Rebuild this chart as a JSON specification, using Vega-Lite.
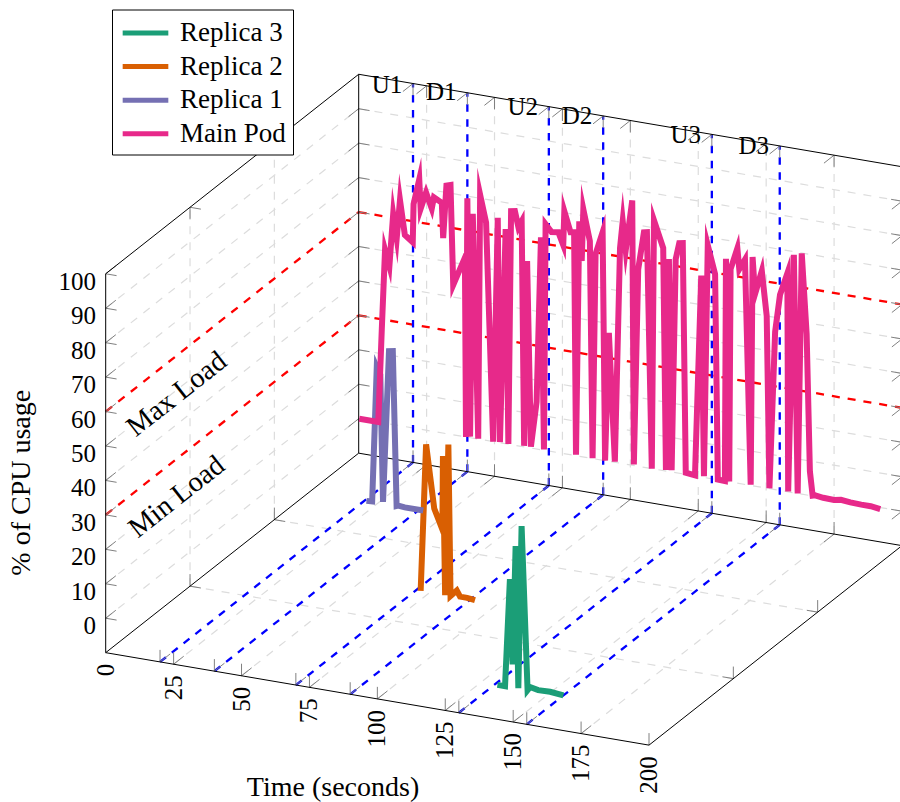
{"$schema":"https://vega.github.io/schema/vega-lite/v6.json","width":900,"height":802,"padding":0,"autosize":{"type":"fit","contains":"padding"},"background":"white","data":{"values":[
{"kind":"grid","time":25,"replica":0,"cpu":-10,"time2":25,"replica2":3,"cpu2":-10},{"kind":"grid","time":50,"replica":0,"cpu":-10,"time2":50,"replica2":3,"cpu2":-10},{"kind":"grid","time":75,"replica":0,"cpu":-10,"time2":75,"replica2":3,"cpu2":-10},{"kind":"grid","time":100,"replica":0,"cpu":-10,"time2":100,"replica2":3,"cpu2":-10},{"kind":"grid","time":125,"replica":0,"cpu":-10,"time2":125,"replica2":3,"cpu2":-10},{"kind":"grid","time":150,"replica":0,"cpu":-10,"time2":150,"replica2":3,"cpu2":-10},{"kind":"grid","time":175,"replica":0,"cpu":-10,"time2":175,"replica2":3,"cpu2":-10},
{"kind":"grid","time":25,"replica":3,"cpu":-10,"time2":25,"replica2":3,"cpu2":100},{"kind":"grid","time":50,"replica":3,"cpu":-10,"time2":50,"replica2":3,"cpu2":100},{"kind":"grid","time":75,"replica":3,"cpu":-10,"time2":75,"replica2":3,"cpu2":100},{"kind":"grid","time":100,"replica":3,"cpu":-10,"time2":100,"replica2":3,"cpu2":100},{"kind":"grid","time":125,"replica":3,"cpu":-10,"time2":125,"replica2":3,"cpu2":100},{"kind":"grid","time":150,"replica":3,"cpu":-10,"time2":150,"replica2":3,"cpu2":100},{"kind":"grid","time":175,"replica":3,"cpu":-10,"time2":175,"replica2":3,"cpu2":100},
{"kind":"grid","time":0,"replica":3,"cpu":0,"time2":200,"replica2":3,"cpu2":0},{"kind":"grid","time":0,"replica":3,"cpu":10,"time2":200,"replica2":3,"cpu2":10},{"kind":"grid","time":0,"replica":3,"cpu":20,"time2":200,"replica2":3,"cpu2":20},{"kind":"grid","time":0,"replica":3,"cpu":30,"time2":200,"replica2":3,"cpu2":30},{"kind":"grid","time":0,"replica":3,"cpu":40,"time2":200,"replica2":3,"cpu2":40},{"kind":"grid","time":0,"replica":3,"cpu":50,"time2":200,"replica2":3,"cpu2":50},{"kind":"grid","time":0,"replica":3,"cpu":60,"time2":200,"replica2":3,"cpu2":60},{"kind":"grid","time":0,"replica":3,"cpu":70,"time2":200,"replica2":3,"cpu2":70},{"kind":"grid","time":0,"replica":3,"cpu":80,"time2":200,"replica2":3,"cpu2":80},{"kind":"grid","time":0,"replica":3,"cpu":90,"time2":200,"replica2":3,"cpu2":90},
{"kind":"grid","time":0,"replica":0,"cpu":0,"time2":0,"replica2":3,"cpu2":0},{"kind":"grid","time":0,"replica":0,"cpu":10,"time2":0,"replica2":3,"cpu2":10},{"kind":"grid","time":0,"replica":0,"cpu":20,"time2":0,"replica2":3,"cpu2":20},{"kind":"grid","time":0,"replica":0,"cpu":30,"time2":0,"replica2":3,"cpu2":30},{"kind":"grid","time":0,"replica":0,"cpu":40,"time2":0,"replica2":3,"cpu2":40},{"kind":"grid","time":0,"replica":0,"cpu":50,"time2":0,"replica2":3,"cpu2":50},{"kind":"grid","time":0,"replica":0,"cpu":60,"time2":0,"replica2":3,"cpu2":60},{"kind":"grid","time":0,"replica":0,"cpu":70,"time2":0,"replica2":3,"cpu2":70},{"kind":"grid","time":0,"replica":0,"cpu":80,"time2":0,"replica2":3,"cpu2":80},{"kind":"grid","time":0,"replica":0,"cpu":90,"time2":0,"replica2":3,"cpu2":90},
{"kind":"grid","time":0,"replica":1,"cpu":-10,"time2":0,"replica2":1,"cpu2":100},{"kind":"grid","time":0,"replica":2,"cpu":-10,"time2":0,"replica2":2,"cpu2":100},{"kind":"grid","time":0,"replica":1,"cpu":-10,"time2":200,"replica2":1,"cpu2":-10},{"kind":"grid","time":0,"replica":2,"cpu":-10,"time2":200,"replica2":2,"cpu2":-10},
{"kind":"red","time":0,"replica":0,"cpu":60,"time2":0,"replica2":3,"cpu2":60},{"kind":"red","time":0,"replica":3,"cpu":60,"time2":200,"replica2":3,"cpu2":60},{"kind":"red","time":0,"replica":0,"cpu":30,"time2":0,"replica2":3,"cpu2":30},{"kind":"red","time":0,"replica":3,"cpu":30,"time2":200,"replica2":3,"cpu2":30},
{"kind":"blue","time":20,"replica":0,"cpu":-10,"time2":20,"replica2":3,"cpu2":-10},{"kind":"blue","time":20,"replica":3,"cpu":-10,"time2":20,"replica2":3,"cpu2":100},{"kind":"blue","time":40,"replica":0,"cpu":-10,"time2":40,"replica2":3,"cpu2":-10},{"kind":"blue","time":40,"replica":3,"cpu":-10,"time2":40,"replica2":3,"cpu2":100},{"kind":"blue","time":70,"replica":0,"cpu":-10,"time2":70,"replica2":3,"cpu2":-10},{"kind":"blue","time":70,"replica":3,"cpu":-10,"time2":70,"replica2":3,"cpu2":100},{"kind":"blue","time":90,"replica":0,"cpu":-10,"time2":90,"replica2":3,"cpu2":-10},{"kind":"blue","time":90,"replica":3,"cpu":-10,"time2":90,"replica2":3,"cpu2":100},{"kind":"blue","time":130,"replica":0,"cpu":-10,"time2":130,"replica2":3,"cpu2":-10},{"kind":"blue","time":130,"replica":3,"cpu":-10,"time2":130,"replica2":3,"cpu2":100},{"kind":"blue","time":155,"replica":0,"cpu":-10,"time2":155,"replica2":3,"cpu2":-10},{"kind":"blue","time":155,"replica":3,"cpu":-10,"time2":155,"replica2":3,"cpu2":100},
{"kind":"tick","time":20,"replica":0,"cpu":-10,"time2":20,"replica2":0,"cpu2":-6.5},{"kind":"tick","time":20,"replica":0,"cpu":-10,"time2":20,"replica2":0.12,"cpu2":-10},{"kind":"tick","time":20,"replica":3,"cpu":-10,"time2":20,"replica2":3,"cpu2":-6.5},{"kind":"tick","time":20,"replica":3,"cpu":-10,"time2":20,"replica2":2.88,"cpu2":-10},{"kind":"tick","time":20,"replica":3,"cpu":100,"time2":20,"replica2":3,"cpu2":96.5},{"kind":"tick","time":20,"replica":3,"cpu":100,"time2":20,"replica2":2.88,"cpu2":100},
{"kind":"tick","time":25,"replica":0,"cpu":-10,"time2":25,"replica2":0,"cpu2":-6.5},{"kind":"tick","time":25,"replica":0,"cpu":-10,"time2":25,"replica2":0.12,"cpu2":-10},{"kind":"tick","time":25,"replica":3,"cpu":-10,"time2":25,"replica2":3,"cpu2":-6.5},{"kind":"tick","time":25,"replica":3,"cpu":-10,"time2":25,"replica2":2.88,"cpu2":-10},{"kind":"tick","time":25,"replica":3,"cpu":100,"time2":25,"replica2":3,"cpu2":96.5},{"kind":"tick","time":25,"replica":3,"cpu":100,"time2":25,"replica2":2.88,"cpu2":100},
{"kind":"tick","time":40,"replica":0,"cpu":-10,"time2":40,"replica2":0,"cpu2":-6.5},{"kind":"tick","time":40,"replica":0,"cpu":-10,"time2":40,"replica2":0.12,"cpu2":-10},{"kind":"tick","time":40,"replica":3,"cpu":-10,"time2":40,"replica2":3,"cpu2":-6.5},{"kind":"tick","time":40,"replica":3,"cpu":-10,"time2":40,"replica2":2.88,"cpu2":-10},{"kind":"tick","time":40,"replica":3,"cpu":100,"time2":40,"replica2":3,"cpu2":96.5},{"kind":"tick","time":40,"replica":3,"cpu":100,"time2":40,"replica2":2.88,"cpu2":100},
{"kind":"tick","time":50,"replica":0,"cpu":-10,"time2":50,"replica2":0,"cpu2":-6.5},{"kind":"tick","time":50,"replica":0,"cpu":-10,"time2":50,"replica2":0.12,"cpu2":-10},{"kind":"tick","time":50,"replica":3,"cpu":-10,"time2":50,"replica2":3,"cpu2":-6.5},{"kind":"tick","time":50,"replica":3,"cpu":-10,"time2":50,"replica2":2.88,"cpu2":-10},{"kind":"tick","time":50,"replica":3,"cpu":100,"time2":50,"replica2":3,"cpu2":96.5},{"kind":"tick","time":50,"replica":3,"cpu":100,"time2":50,"replica2":2.88,"cpu2":100},
{"kind":"tick","time":70,"replica":0,"cpu":-10,"time2":70,"replica2":0,"cpu2":-6.5},{"kind":"tick","time":70,"replica":0,"cpu":-10,"time2":70,"replica2":0.12,"cpu2":-10},{"kind":"tick","time":70,"replica":3,"cpu":-10,"time2":70,"replica2":3,"cpu2":-6.5},{"kind":"tick","time":70,"replica":3,"cpu":-10,"time2":70,"replica2":2.88,"cpu2":-10},{"kind":"tick","time":70,"replica":3,"cpu":100,"time2":70,"replica2":3,"cpu2":96.5},{"kind":"tick","time":70,"replica":3,"cpu":100,"time2":70,"replica2":2.88,"cpu2":100},
{"kind":"tick","time":75,"replica":0,"cpu":-10,"time2":75,"replica2":0,"cpu2":-6.5},{"kind":"tick","time":75,"replica":0,"cpu":-10,"time2":75,"replica2":0.12,"cpu2":-10},{"kind":"tick","time":75,"replica":3,"cpu":-10,"time2":75,"replica2":3,"cpu2":-6.5},{"kind":"tick","time":75,"replica":3,"cpu":-10,"time2":75,"replica2":2.88,"cpu2":-10},{"kind":"tick","time":75,"replica":3,"cpu":100,"time2":75,"replica2":3,"cpu2":96.5},{"kind":"tick","time":75,"replica":3,"cpu":100,"time2":75,"replica2":2.88,"cpu2":100},
{"kind":"tick","time":90,"replica":0,"cpu":-10,"time2":90,"replica2":0,"cpu2":-6.5},{"kind":"tick","time":90,"replica":0,"cpu":-10,"time2":90,"replica2":0.12,"cpu2":-10},{"kind":"tick","time":90,"replica":3,"cpu":-10,"time2":90,"replica2":3,"cpu2":-6.5},{"kind":"tick","time":90,"replica":3,"cpu":-10,"time2":90,"replica2":2.88,"cpu2":-10},{"kind":"tick","time":90,"replica":3,"cpu":100,"time2":90,"replica2":3,"cpu2":96.5},{"kind":"tick","time":90,"replica":3,"cpu":100,"time2":90,"replica2":2.88,"cpu2":100},
{"kind":"tick","time":100,"replica":0,"cpu":-10,"time2":100,"replica2":0,"cpu2":-6.5},{"kind":"tick","time":100,"replica":0,"cpu":-10,"time2":100,"replica2":0.12,"cpu2":-10},{"kind":"tick","time":100,"replica":3,"cpu":-10,"time2":100,"replica2":3,"cpu2":-6.5},{"kind":"tick","time":100,"replica":3,"cpu":-10,"time2":100,"replica2":2.88,"cpu2":-10},{"kind":"tick","time":100,"replica":3,"cpu":100,"time2":100,"replica2":3,"cpu2":96.5},{"kind":"tick","time":100,"replica":3,"cpu":100,"time2":100,"replica2":2.88,"cpu2":100},
{"kind":"tick","time":125,"replica":0,"cpu":-10,"time2":125,"replica2":0,"cpu2":-6.5},{"kind":"tick","time":125,"replica":0,"cpu":-10,"time2":125,"replica2":0.12,"cpu2":-10},{"kind":"tick","time":125,"replica":3,"cpu":-10,"time2":125,"replica2":3,"cpu2":-6.5},{"kind":"tick","time":125,"replica":3,"cpu":-10,"time2":125,"replica2":2.88,"cpu2":-10},{"kind":"tick","time":125,"replica":3,"cpu":100,"time2":125,"replica2":3,"cpu2":96.5},{"kind":"tick","time":125,"replica":3,"cpu":100,"time2":125,"replica2":2.88,"cpu2":100},
{"kind":"tick","time":130,"replica":0,"cpu":-10,"time2":130,"replica2":0,"cpu2":-6.5},{"kind":"tick","time":130,"replica":0,"cpu":-10,"time2":130,"replica2":0.12,"cpu2":-10},{"kind":"tick","time":130,"replica":3,"cpu":-10,"time2":130,"replica2":3,"cpu2":-6.5},{"kind":"tick","time":130,"replica":3,"cpu":-10,"time2":130,"replica2":2.88,"cpu2":-10},{"kind":"tick","time":130,"replica":3,"cpu":100,"time2":130,"replica2":3,"cpu2":96.5},{"kind":"tick","time":130,"replica":3,"cpu":100,"time2":130,"replica2":2.88,"cpu2":100},
{"kind":"tick","time":150,"replica":0,"cpu":-10,"time2":150,"replica2":0,"cpu2":-6.5},{"kind":"tick","time":150,"replica":0,"cpu":-10,"time2":150,"replica2":0.12,"cpu2":-10},{"kind":"tick","time":150,"replica":3,"cpu":-10,"time2":150,"replica2":3,"cpu2":-6.5},{"kind":"tick","time":150,"replica":3,"cpu":-10,"time2":150,"replica2":2.88,"cpu2":-10},{"kind":"tick","time":150,"replica":3,"cpu":100,"time2":150,"replica2":3,"cpu2":96.5},{"kind":"tick","time":150,"replica":3,"cpu":100,"time2":150,"replica2":2.88,"cpu2":100},
{"kind":"tick","time":155,"replica":0,"cpu":-10,"time2":155,"replica2":0,"cpu2":-6.5},{"kind":"tick","time":155,"replica":0,"cpu":-10,"time2":155,"replica2":0.12,"cpu2":-10},{"kind":"tick","time":155,"replica":3,"cpu":-10,"time2":155,"replica2":3,"cpu2":-6.5},{"kind":"tick","time":155,"replica":3,"cpu":-10,"time2":155,"replica2":2.88,"cpu2":-10},{"kind":"tick","time":155,"replica":3,"cpu":100,"time2":155,"replica2":3,"cpu2":96.5},{"kind":"tick","time":155,"replica":3,"cpu":100,"time2":155,"replica2":2.88,"cpu2":100},
{"kind":"tick","time":175,"replica":0,"cpu":-10,"time2":175,"replica2":0,"cpu2":-6.5},{"kind":"tick","time":175,"replica":0,"cpu":-10,"time2":175,"replica2":0.12,"cpu2":-10},{"kind":"tick","time":175,"replica":3,"cpu":-10,"time2":175,"replica2":3,"cpu2":-6.5},{"kind":"tick","time":175,"replica":3,"cpu":-10,"time2":175,"replica2":2.88,"cpu2":-10},{"kind":"tick","time":175,"replica":3,"cpu":100,"time2":175,"replica2":3,"cpu2":96.5},{"kind":"tick","time":175,"replica":3,"cpu":100,"time2":175,"replica2":2.88,"cpu2":100},
{"kind":"tick","time":200,"replica":0,"cpu":-10,"time2":200,"replica2":0,"cpu2":-6.5},
{"kind":"tick","time":0,"replica":1,"cpu":-10,"time2":4,"replica2":1,"cpu2":-10},{"kind":"tick","time":0,"replica":1,"cpu":-10,"time2":0,"replica2":1,"cpu2":-6.5},{"kind":"tick","time":200,"replica":1,"cpu":-10,"time2":196,"replica2":1,"cpu2":-10},{"kind":"tick","time":200,"replica":1,"cpu":-10,"time2":200,"replica2":1,"cpu2":-6.5},{"kind":"tick","time":0,"replica":1,"cpu":100,"time2":4,"replica2":1,"cpu2":100},{"kind":"tick","time":0,"replica":1,"cpu":100,"time2":0,"replica2":1,"cpu2":96.5},
{"kind":"tick","time":0,"replica":2,"cpu":-10,"time2":4,"replica2":2,"cpu2":-10},{"kind":"tick","time":0,"replica":2,"cpu":-10,"time2":0,"replica2":2,"cpu2":-6.5},{"kind":"tick","time":200,"replica":2,"cpu":-10,"time2":196,"replica2":2,"cpu2":-10},{"kind":"tick","time":200,"replica":2,"cpu":-10,"time2":200,"replica2":2,"cpu2":-6.5},{"kind":"tick","time":0,"replica":2,"cpu":100,"time2":4,"replica2":2,"cpu2":100},{"kind":"tick","time":0,"replica":2,"cpu":100,"time2":0,"replica2":2,"cpu2":96.5},
{"kind":"tick","time":0,"replica":0,"cpu":0,"time2":4,"replica2":0,"cpu2":0},{"kind":"tick","time":0,"replica":0,"cpu":0,"time2":0,"replica2":0.12,"cpu2":0},{"kind":"tick","time":0,"replica":0,"cpu":10,"time2":4,"replica2":0,"cpu2":10},{"kind":"tick","time":0,"replica":0,"cpu":10,"time2":0,"replica2":0.12,"cpu2":10},{"kind":"tick","time":0,"replica":0,"cpu":20,"time2":4,"replica2":0,"cpu2":20},{"kind":"tick","time":0,"replica":0,"cpu":20,"time2":0,"replica2":0.12,"cpu2":20},{"kind":"tick","time":0,"replica":0,"cpu":30,"time2":4,"replica2":0,"cpu2":30},{"kind":"tick","time":0,"replica":0,"cpu":30,"time2":0,"replica2":0.12,"cpu2":30},{"kind":"tick","time":0,"replica":0,"cpu":40,"time2":4,"replica2":0,"cpu2":40},{"kind":"tick","time":0,"replica":0,"cpu":40,"time2":0,"replica2":0.12,"cpu2":40},{"kind":"tick","time":0,"replica":0,"cpu":50,"time2":4,"replica2":0,"cpu2":50},{"kind":"tick","time":0,"replica":0,"cpu":50,"time2":0,"replica2":0.12,"cpu2":50},{"kind":"tick","time":0,"replica":0,"cpu":60,"time2":4,"replica2":0,"cpu2":60},{"kind":"tick","time":0,"replica":0,"cpu":60,"time2":0,"replica2":0.12,"cpu2":60},{"kind":"tick","time":0,"replica":0,"cpu":70,"time2":4,"replica2":0,"cpu2":70},{"kind":"tick","time":0,"replica":0,"cpu":70,"time2":0,"replica2":0.12,"cpu2":70},{"kind":"tick","time":0,"replica":0,"cpu":80,"time2":4,"replica2":0,"cpu2":80},{"kind":"tick","time":0,"replica":0,"cpu":80,"time2":0,"replica2":0.12,"cpu2":80},{"kind":"tick","time":0,"replica":0,"cpu":90,"time2":4,"replica2":0,"cpu2":90},{"kind":"tick","time":0,"replica":0,"cpu":90,"time2":0,"replica2":0.12,"cpu2":90},{"kind":"tick","time":0,"replica":0,"cpu":100,"time2":4,"replica2":0,"cpu2":100},{"kind":"tick","time":0,"replica":0,"cpu":100,"time2":0,"replica2":0.12,"cpu2":100},
{"kind":"tick","time":0,"replica":3,"cpu":0,"time2":4,"replica2":3,"cpu2":0},{"kind":"tick","time":0,"replica":3,"cpu":0,"time2":0,"replica2":2.88,"cpu2":0},{"kind":"tick","time":0,"replica":3,"cpu":10,"time2":4,"replica2":3,"cpu2":10},{"kind":"tick","time":0,"replica":3,"cpu":10,"time2":0,"replica2":2.88,"cpu2":10},{"kind":"tick","time":0,"replica":3,"cpu":20,"time2":4,"replica2":3,"cpu2":20},{"kind":"tick","time":0,"replica":3,"cpu":20,"time2":0,"replica2":2.88,"cpu2":20},{"kind":"tick","time":0,"replica":3,"cpu":30,"time2":4,"replica2":3,"cpu2":30},{"kind":"tick","time":0,"replica":3,"cpu":30,"time2":0,"replica2":2.88,"cpu2":30},{"kind":"tick","time":0,"replica":3,"cpu":40,"time2":4,"replica2":3,"cpu2":40},{"kind":"tick","time":0,"replica":3,"cpu":40,"time2":0,"replica2":2.88,"cpu2":40},{"kind":"tick","time":0,"replica":3,"cpu":50,"time2":4,"replica2":3,"cpu2":50},{"kind":"tick","time":0,"replica":3,"cpu":50,"time2":0,"replica2":2.88,"cpu2":50},{"kind":"tick","time":0,"replica":3,"cpu":60,"time2":4,"replica2":3,"cpu2":60},{"kind":"tick","time":0,"replica":3,"cpu":60,"time2":0,"replica2":2.88,"cpu2":60},{"kind":"tick","time":0,"replica":3,"cpu":70,"time2":4,"replica2":3,"cpu2":70},{"kind":"tick","time":0,"replica":3,"cpu":70,"time2":0,"replica2":2.88,"cpu2":70},{"kind":"tick","time":0,"replica":3,"cpu":80,"time2":4,"replica2":3,"cpu2":80},{"kind":"tick","time":0,"replica":3,"cpu":80,"time2":0,"replica2":2.88,"cpu2":80},{"kind":"tick","time":0,"replica":3,"cpu":90,"time2":4,"replica2":3,"cpu2":90},{"kind":"tick","time":0,"replica":3,"cpu":90,"time2":0,"replica2":2.88,"cpu2":90},
{"kind":"tick","time":200,"replica":3,"cpu":0,"time2":196,"replica2":3,"cpu2":0},{"kind":"tick","time":200,"replica":3,"cpu":0,"time2":200,"replica2":2.88,"cpu2":0},{"kind":"tick","time":200,"replica":3,"cpu":10,"time2":196,"replica2":3,"cpu2":10},{"kind":"tick","time":200,"replica":3,"cpu":10,"time2":200,"replica2":2.88,"cpu2":10},{"kind":"tick","time":200,"replica":3,"cpu":20,"time2":196,"replica2":3,"cpu2":20},{"kind":"tick","time":200,"replica":3,"cpu":20,"time2":200,"replica2":2.88,"cpu2":20},{"kind":"tick","time":200,"replica":3,"cpu":30,"time2":196,"replica2":3,"cpu2":30},{"kind":"tick","time":200,"replica":3,"cpu":30,"time2":200,"replica2":2.88,"cpu2":30},{"kind":"tick","time":200,"replica":3,"cpu":40,"time2":196,"replica2":3,"cpu2":40},{"kind":"tick","time":200,"replica":3,"cpu":40,"time2":200,"replica2":2.88,"cpu2":40},{"kind":"tick","time":200,"replica":3,"cpu":50,"time2":196,"replica2":3,"cpu2":50},{"kind":"tick","time":200,"replica":3,"cpu":50,"time2":200,"replica2":2.88,"cpu2":50},{"kind":"tick","time":200,"replica":3,"cpu":60,"time2":196,"replica2":3,"cpu2":60},{"kind":"tick","time":200,"replica":3,"cpu":60,"time2":200,"replica2":2.88,"cpu2":60},{"kind":"tick","time":200,"replica":3,"cpu":70,"time2":196,"replica2":3,"cpu2":70},{"kind":"tick","time":200,"replica":3,"cpu":70,"time2":200,"replica2":2.88,"cpu2":70},{"kind":"tick","time":200,"replica":3,"cpu":80,"time2":196,"replica2":3,"cpu2":80},{"kind":"tick","time":200,"replica":3,"cpu":80,"time2":200,"replica2":2.88,"cpu2":80},{"kind":"tick","time":200,"replica":3,"cpu":90,"time2":196,"replica2":3,"cpu2":90},{"kind":"tick","time":200,"replica":3,"cpu":90,"time2":200,"replica2":2.88,"cpu2":90},
{"kind":"box","time":0,"replica":0,"cpu":-10,"time2":200,"replica2":0,"cpu2":-10},{"kind":"box","time":0,"replica":0,"cpu":-10,"time2":0,"replica2":3,"cpu2":-10},{"kind":"box","time":200,"replica":0,"cpu":-10,"time2":200,"replica2":3,"cpu2":-10},{"kind":"box","time":0,"replica":3,"cpu":-10,"time2":200,"replica2":3,"cpu2":-10},{"kind":"box","time":0,"replica":0,"cpu":-10,"time2":0,"replica2":0,"cpu2":100},{"kind":"box","time":0,"replica":3,"cpu":-10,"time2":0,"replica2":3,"cpu2":100},{"kind":"box","time":0,"replica":0,"cpu":100,"time2":0,"replica2":3,"cpu2":100},{"kind":"box","time":0,"replica":3,"cpu":100,"time2":200,"replica2":3,"cpu2":100},{"kind":"box","time":200,"replica":3,"cpu":-10,"time2":200,"replica2":3,"cpu2":100},
{"kind":"series","series":"Replica 3","replica":0,"time":144.2,"cpu":0},{"kind":"series","series":"Replica 3","replica":0,"time":147,"cpu":0},{"kind":"series","series":"Replica 3","replica":0,"time":148.8,"cpu":31.3},{"kind":"series","series":"Replica 3","replica":0,"time":149.8,"cpu":6.7},{"kind":"series","series":"Replica 3","replica":0,"time":150.9,"cpu":41.2},{"kind":"series","series":"Replica 3","replica":0,"time":151.9,"cpu":0.1},{"kind":"series","series":"Replica 3","replica":0,"time":153.1,"cpu":47.3},{"kind":"series","series":"Replica 3","replica":0,"time":155.3,"cpu":0},{"kind":"series","series":"Replica 3","replica":0,"time":156.2,"cpu":1},{"kind":"series","series":"Replica 3","replica":0,"time":159.2,"cpu":0.5},{"kind":"series","series":"Replica 3","replica":0,"time":163.6,"cpu":0.6},{"kind":"series","series":"Replica 3","replica":0,"time":168.5,"cpu":0.2},
{"kind":"series","series":"Replica 2","replica":1,"time":84.9,"cpu":0},{"kind":"series","series":"Replica 2","replica":1,"time":86.9,"cpu":42.8},{"kind":"series","series":"Replica 2","replica":1,"time":89.9,"cpu":24.6},{"kind":"series","series":"Replica 2","replica":1,"time":92.9,"cpu":18.9},{"kind":"series","series":"Replica 2","replica":1,"time":93.1,"cpu":40.3},{"kind":"series","series":"Replica 2","replica":1,"time":93.9,"cpu":0},{"kind":"series","series":"Replica 2","replica":1,"time":95.1,"cpu":43.9},{"kind":"series","series":"Replica 2","replica":1,"time":95.9,"cpu":0},{"kind":"series","series":"Replica 2","replica":1,"time":98.2,"cpu":1.9},{"kind":"series","series":"Replica 2","replica":1,"time":99.4,"cpu":0.3},{"kind":"series","series":"Replica 2","replica":1,"time":102,"cpu":0.3},{"kind":"series","series":"Replica 2","replica":1,"time":104.9,"cpu":0},
{"kind":"series","series":"Replica 1","replica":2,"time":33.9,"cpu":0},{"kind":"series","series":"Replica 1","replica":2,"time":36,"cpu":0.1},{"kind":"series","series":"Replica 1","replica":2,"time":37.7,"cpu":39.4},{"kind":"series","series":"Replica 1","replica":2,"time":39,"cpu":37.3},{"kind":"series","series":"Replica 1","replica":2,"time":40,"cpu":0.5},{"kind":"series","series":"Replica 1","replica":2,"time":42.2,"cpu":44.6},{"kind":"series","series":"Replica 1","replica":2,"time":43.6,"cpu":44.8},{"kind":"series","series":"Replica 1","replica":2,"time":45,"cpu":0},{"kind":"series","series":"Replica 1","replica":2,"time":45.6,"cpu":0.2},{"kind":"series","series":"Replica 1","replica":2,"time":48,"cpu":0},{"kind":"series","series":"Replica 1","replica":2,"time":54.8,"cpu":0},
{"kind":"series","series":"Main Pod","replica":3,"time":0.2,"cpu":0},{"kind":"series","series":"Main Pod","replica":3,"time":7.2,"cpu":0},{"kind":"series","series":"Main Pod","replica":3,"time":8.5,"cpu":27},{"kind":"series","series":"Main Pod","replica":3,"time":9.7,"cpu":50.3},{"kind":"series","series":"Main Pod","replica":3,"time":11.3,"cpu":45.8},{"kind":"series","series":"Main Pod","replica":3,"time":12.7,"cpu":61.1},{"kind":"series","series":"Main Pod","replica":3,"time":14,"cpu":54.3},{"kind":"series","series":"Main Pod","replica":3,"time":15.2,"cpu":65.5},{"kind":"series","series":"Main Pod","replica":3,"time":17,"cpu":55.6},{"kind":"series","series":"Main Pod","replica":3,"time":19.9,"cpu":53.9},{"kind":"series","series":"Main Pod","replica":3,"time":20.2,"cpu":65},{"kind":"series","series":"Main Pod","replica":3,"time":22.3,"cpu":72.5},{"kind":"series","series":"Main Pod","replica":3,"time":22.8,"cpu":64},{"kind":"series","series":"Main Pod","replica":3,"time":24.8,"cpu":69},{"kind":"series","series":"Main Pod","replica":3,"time":26.9,"cpu":64.6},{"kind":"series","series":"Main Pod","replica":3,"time":27.7,"cpu":68},{"kind":"series","series":"Main Pod","replica":3,"time":30.6,"cpu":66.8},{"kind":"series","series":"Main Pod","replica":3,"time":31.1,"cpu":56.6},{"kind":"series","series":"Main Pod","replica":3,"time":32.3,"cpu":72},{"kind":"series","series":"Main Pod","replica":3,"time":33.8,"cpu":72.4},{"kind":"series","series":"Main Pod","replica":3,"time":34.8,"cpu":43.5},{"kind":"series","series":"Main Pod","replica":3,"time":39.1,"cpu":52},{"kind":"series","series":"Main Pod","replica":3,"time":39.5,"cpu":0},{"kind":"series","series":"Main Pod","replica":3,"time":40,"cpu":69.4},{"kind":"series","series":"Main Pod","replica":3,"time":41,"cpu":0.3},{"kind":"series","series":"Main Pod","replica":3,"time":42,"cpu":65.1},{"kind":"series","series":"Main Pod","replica":3,"time":44,"cpu":0.1},{"kind":"series","series":"Main Pod","replica":3,"time":44.7,"cpu":71},{"kind":"series","series":"Main Pod","replica":3,"time":46.9,"cpu":63.2},{"kind":"series","series":"Main Pod","replica":3,"time":49.5,"cpu":0},{"kind":"series","series":"Main Pod","replica":3,"time":51.2,"cpu":65.2},{"kind":"series","series":"Main Pod","replica":3,"time":52,"cpu":0.2},{"kind":"series","series":"Main Pod","replica":3,"time":54.1,"cpu":62.3},{"kind":"series","series":"Main Pod","replica":3,"time":55.1,"cpu":0.1},{"kind":"series","series":"Main Pod","replica":3,"time":56.1,"cpu":67.8},{"kind":"series","series":"Main Pod","replica":3,"time":57.5,"cpu":68},{"kind":"series","series":"Main Pod","replica":3,"time":58.8,"cpu":63.5},{"kind":"series","series":"Main Pod","replica":3,"time":60,"cpu":65.4},{"kind":"series","series":"Main Pod","replica":3,"time":60.9,"cpu":0.3},{"kind":"series","series":"Main Pod","replica":3,"time":62,"cpu":54.1},{"kind":"series","series":"Main Pod","replica":3,"time":63.4,"cpu":0.4},{"kind":"series","series":"Main Pod","replica":3,"time":65.5,"cpu":13.7},{"kind":"series","series":"Main Pod","replica":3,"time":67.1,"cpu":61.7},{"kind":"series","series":"Main Pod","replica":3,"time":68.2,"cpu":0.2},{"kind":"series","series":"Main Pod","replica":3,"time":68.8,"cpu":65.7},{"kind":"series","series":"Main Pod","replica":3,"time":71,"cpu":63.7},{"kind":"series","series":"Main Pod","replica":3,"time":73.5,"cpu":64},{"kind":"series","series":"Main Pod","replica":3,"time":75.3,"cpu":60.5},{"kind":"series","series":"Main Pod","replica":3,"time":75.7,"cpu":70.4},{"kind":"series","series":"Main Pod","replica":3,"time":78,"cpu":64.6},{"kind":"series","series":"Main Pod","replica":3,"time":79.3,"cpu":64.8},{"kind":"series","series":"Main Pod","replica":3,"time":80,"cpu":0.3},{"kind":"series","series":"Main Pod","replica":3,"time":81.2,"cpu":68.2},{"kind":"series","series":"Main Pod","replica":3,"time":82.1,"cpu":56.8},{"kind":"series","series":"Main Pod","replica":3,"time":82.7,"cpu":71.9},{"kind":"series","series":"Main Pod","replica":3,"time":85.1,"cpu":63},{"kind":"series","series":"Main Pod","replica":3,"time":86.1,"cpu":0.1},{"kind":"series","series":"Main Pod","replica":3,"time":87.2,"cpu":59.5},{"kind":"series","series":"Main Pod","replica":3,"time":89.8,"cpu":66.2},{"kind":"series","series":"Main Pod","replica":3,"time":90.7,"cpu":0},{"kind":"series","series":"Main Pod","replica":3,"time":92.1,"cpu":37.3},{"kind":"series","series":"Main Pod","replica":3,"time":94.3,"cpu":0.2},{"kind":"series","series":"Main Pod","replica":3,"time":96.2,"cpu":62.4},{"kind":"series","series":"Main Pod","replica":3,"time":97.2,"cpu":70.4},{"kind":"series","series":"Main Pod","replica":3,"time":98.3,"cpu":62.1},{"kind":"series","series":"Main Pod","replica":3,"time":100.7,"cpu":76.9},{"kind":"series","series":"Main Pod","replica":3,"time":101.3,"cpu":0.3},{"kind":"series","series":"Main Pod","replica":3,"time":102.9,"cpu":57.2},{"kind":"series","series":"Main Pod","replica":3,"time":105,"cpu":68.2},{"kind":"series","series":"Main Pod","replica":3,"time":106.1,"cpu":68.4},{"kind":"series","series":"Main Pod","replica":3,"time":107.9,"cpu":0},{"kind":"series","series":"Main Pod","replica":3,"time":108.7,"cpu":72.2},{"kind":"series","series":"Main Pod","replica":3,"time":112.1,"cpu":64.6},{"kind":"series","series":"Main Pod","replica":3,"time":113.1,"cpu":0.3},{"kind":"series","series":"Main Pod","replica":3,"time":114.2,"cpu":61.7},{"kind":"series","series":"Main Pod","replica":3,"time":115.2,"cpu":0.5},{"kind":"series","series":"Main Pod","replica":3,"time":116.7,"cpu":62},{"kind":"series","series":"Main Pod","replica":3,"time":118,"cpu":66.8},{"kind":"series","series":"Main Pod","replica":3,"time":119.3,"cpu":67},{"kind":"series","series":"Main Pod","replica":3,"time":120.4,"cpu":0.5},{"kind":"series","series":"Main Pod","replica":3,"time":123.8,"cpu":0.2},{"kind":"series","series":"Main Pod","replica":3,"time":126.1,"cpu":58.5},{"kind":"series","series":"Main Pod","replica":3,"time":127.1,"cpu":0.4},{"kind":"series","series":"Main Pod","replica":3,"time":128.5,"cpu":67.6},{"kind":"series","series":"Main Pod","replica":3,"time":131.2,"cpu":59.6},{"kind":"series","series":"Main Pod","replica":3,"time":132.2,"cpu":0.1},{"kind":"series","series":"Main Pod","replica":3,"time":134.8,"cpu":0},{"kind":"series","series":"Main Pod","replica":3,"time":135.2,"cpu":64.6},{"kind":"series","series":"Main Pod","replica":3,"time":136.4,"cpu":0.1},{"kind":"series","series":"Main Pod","replica":3,"time":136.9,"cpu":61.8},{"kind":"series","series":"Main Pod","replica":3,"time":139.4,"cpu":68.2},{"kind":"series","series":"Main Pod","replica":3,"time":140.1,"cpu":62.2},{"kind":"series","series":"Main Pod","replica":3,"time":142.2,"cpu":65.3},{"kind":"series","series":"Main Pod","replica":3,"time":144.3,"cpu":0.2},{"kind":"series","series":"Main Pod","replica":3,"time":145,"cpu":66.4},{"kind":"series","series":"Main Pod","replica":3,"time":145.9,"cpu":55.8},{"kind":"series","series":"Main Pod","replica":3,"time":148.4,"cpu":62.8},{"kind":"series","series":"Main Pod","replica":3,"time":150.2,"cpu":50},{"kind":"series","series":"Main Pod","replica":3,"time":151.2,"cpu":0.1},{"kind":"series","series":"Main Pod","replica":3,"time":153.3,"cpu":45.8},{"kind":"series","series":"Main Pod","replica":3,"time":155.1,"cpu":56.8},{"kind":"series","series":"Main Pod","replica":3,"time":157.8,"cpu":63.4},{"kind":"series","series":"Main Pod","replica":3,"time":158.1,"cpu":0.1},{"kind":"series","series":"Main Pod","replica":3,"time":160.2,"cpu":69.1},{"kind":"series","series":"Main Pod","replica":3,"time":161.6,"cpu":0},{"kind":"series","series":"Main Pod","replica":3,"time":163.1,"cpu":69.9},{"kind":"series","series":"Main Pod","replica":3,"time":164.9,"cpu":46.7},{"kind":"series","series":"Main Pod","replica":3,"time":166.1,"cpu":7},{"kind":"series","series":"Main Pod","replica":3,"time":167.1,"cpu":0.1},{"kind":"series","series":"Main Pod","replica":3,"time":168,"cpu":0.3},{"kind":"series","series":"Main Pod","replica":3,"time":171,"cpu":0},{"kind":"series","series":"Main Pod","replica":3,"time":175,"cpu":-0.1},{"kind":"series","series":"Main Pod","replica":3,"time":177.5,"cpu":0.3},{"kind":"series","series":"Main Pod","replica":3,"time":181,"cpu":0},{"kind":"series","series":"Main Pod","replica":3,"time":185,"cpu":-0.1},{"kind":"series","series":"Main Pod","replica":3,"time":188.5,"cpu":-0.1},{"kind":"series","series":"Main Pod","replica":3,"time":192,"cpu":-0.5},
{"kind":"zlabel","label":"100","time":-3.6,"replica":0,"cpu":97.2},{"kind":"zlabel","label":"90","time":-3.6,"replica":0,"cpu":87.2},{"kind":"zlabel","label":"80","time":-3.6,"replica":0,"cpu":77.2},{"kind":"zlabel","label":"70","time":-3.6,"replica":0,"cpu":67.2},{"kind":"zlabel","label":"60","time":-3.6,"replica":0,"cpu":57.2},{"kind":"zlabel","label":"50","time":-3.6,"replica":0,"cpu":47.2},{"kind":"zlabel","label":"40","time":-3.6,"replica":0,"cpu":37.2},{"kind":"zlabel","label":"30","time":-3.6,"replica":0,"cpu":27.2},{"kind":"zlabel","label":"20","time":-3.6,"replica":0,"cpu":17.2},{"kind":"zlabel","label":"10","time":-3.6,"replica":0,"cpu":7.2},{"kind":"zlabel","label":"0","time":-3.6,"replica":0,"cpu":-2.8},
{"kind":"tlabel","label":"0","time":0,"replica":0,"cpu":-13.2},{"kind":"tlabel","label":"25","time":25,"replica":0,"cpu":-13.2},{"kind":"tlabel","label":"50","time":50,"replica":0,"cpu":-13.2},{"kind":"tlabel","label":"75","time":75,"replica":0,"cpu":-13.2},{"kind":"tlabel","label":"100","time":100,"replica":0,"cpu":-13.2},{"kind":"tlabel","label":"125","time":125,"replica":0,"cpu":-13.2},{"kind":"tlabel","label":"150","time":150,"replica":0,"cpu":-13.2},{"kind":"tlabel","label":"175","time":175,"replica":0,"cpu":-13.2},{"kind":"tlabel","label":"200","time":200,"replica":0,"cpu":-13.2},
{"kind":"xtitle","label":"Time (seconds)","time":83.7,"replica":0,"cpu":-38},
{"kind":"ytitle","label":"% of CPU usage","time":-30.8,"replica":0,"cpu":35.2},
{"kind":"load","label":"Max Load","time":0,"replica":0.84,"cpu":48.9},{"kind":"load","label":"Min Load","time":0,"replica":0.84,"cpu":19.1},
{"kind":"event","label":"U1","time":10.4,"replica":3,"cpu":98.4},{"kind":"event","label":"D1","time":30.4,"replica":3,"cpu":98.8},{"kind":"event","label":"U2","time":60.4,"replica":3,"cpu":98.5},{"kind":"event","label":"D2","time":80.4,"replica":3,"cpu":98.8},{"kind":"event","label":"U3","time":120.4,"replica":3,"cpu":98.4},{"kind":"event","label":"D3","time":145.4,"replica":3,"cpu":98.6}
]},
"transform":[
{"calculate":"105.7+2.7165*datum.time+84.33*datum.replica","as":"sx"},
{"calculate":"654.3+0.4635*datum.time-66.67*datum.replica-3.453*(datum.cpu+10)","as":"sy"},
{"calculate":"105.7+2.7165*datum.time2+84.33*datum.replica2","as":"sx2"},
{"calculate":"654.3+0.4635*datum.time2-66.67*datum.replica2-3.453*(datum.cpu2+10)","as":"sy2"}
],
"encoding":{
"x":{"field":"sx","type":"quantitative","scale":{"domain":[0,900],"nice":false,"zero":false},"axis":null},
"y":{"field":"sy","type":"quantitative","scale":{"domain":[802,0],"nice":false,"zero":false},"axis":null}
},
"layer":[
{"transform":[{"filter":"datum.kind==='grid'"}],"mark":{"type":"rule","clip":true,"color":"#dcdcdc","strokeWidth":1.2,"strokeDash":[8,8]},"encoding":{"x2":{"field":"sx2"},"y2":{"field":"sy2"}}},
{"transform":[{"filter":"datum.kind==='red'"}],"mark":{"type":"rule","clip":true,"color":"#ff0000","strokeWidth":2.3,"strokeDash":[8,8]},"encoding":{"x2":{"field":"sx2"},"y2":{"field":"sy2"}}},
{"transform":[{"filter":"datum.kind==='blue'"}],"mark":{"type":"rule","clip":true,"color":"#0000ff","strokeWidth":2.3,"strokeDash":[7.5,7.5]},"encoding":{"x2":{"field":"sx2"},"y2":{"field":"sy2"}}},
{"transform":[{"filter":"datum.kind==='tick'"}],"mark":{"type":"rule","clip":true,"color":"#808080","strokeWidth":1},"encoding":{"x2":{"field":"sx2"},"y2":{"field":"sy2"}}},
{"transform":[{"filter":"datum.kind==='box'"}],"mark":{"type":"rule","clip":true,"color":"#000000","strokeWidth":1},"encoding":{"x2":{"field":"sx2"},"y2":{"field":"sy2"}}},
{"transform":[{"filter":"datum.kind==='series'"}],"mark":{"type":"line","clip":true,"strokeWidth":6,"strokeJoin":"miter","strokeMiterLimit":10,"interpolate":"linear"},"encoding":{"order":{"field":"time","type":"quantitative"},"color":{"field":"series","type":"nominal","scale":{"domain":["Replica 3","Replica 2","Replica 1","Main Pod"],"range":["#1b9e77","#d95f02","#7570b3","#e7298a"]},"legend":{"title":null,"orient":"none","legendX":112,"legendY":9.5,"padding":7,"fillColor":"white","strokeColor":"black","symbolType":"M-1.63,0H1.63","symbolSize":784,"symbolStrokeWidth":5,"symbolOffset":10,"labelFont":"Liberation Serif","labelFontSize":27,"labelColor":"black","rowPadding":3.6,"labelOffset":18,"zindex":1}}}},
{"transform":[{"filter":"datum.kind==='zlabel'"}],"mark":{"type":"text","font":"Liberation Serif","fontSize":25,"align":"right","baseline":"middle","color":"black"},"encoding":{"text":{"field":"label"}}},
{"transform":[{"filter":"datum.kind==='tlabel'"}],"mark":{"type":"text","font":"Liberation Serif","fontSize":25,"align":"right","baseline":"middle","angle":270,"color":"black"},"encoding":{"text":{"field":"label"}}},
{"transform":[{"filter":"datum.kind==='xtitle'"}],"mark":{"type":"text","font":"Liberation Serif","fontSize":28,"align":"center","baseline":"middle","color":"black"},"encoding":{"text":{"field":"label"}}},
{"transform":[{"filter":"datum.kind==='ytitle'"}],"mark":{"type":"text","font":"Liberation Serif","fontSize":28,"align":"center","baseline":"middle","angle":270,"color":"black"},"encoding":{"text":{"field":"label"}}},
{"transform":[{"filter":"datum.kind==='load'"}],"mark":{"type":"text","font":"Liberation Serif","fontSize":28.5,"align":"center","baseline":"middle","angle":321.7,"color":"black"},"encoding":{"text":{"field":"label"}}},
{"transform":[{"filter":"datum.kind==='event'"}],"mark":{"type":"text","font":"Liberation Serif","fontSize":25,"align":"center","baseline":"middle","color":"black"},"encoding":{"text":{"field":"label"}}}
],
"config":{"view":{"stroke":null}}
}
